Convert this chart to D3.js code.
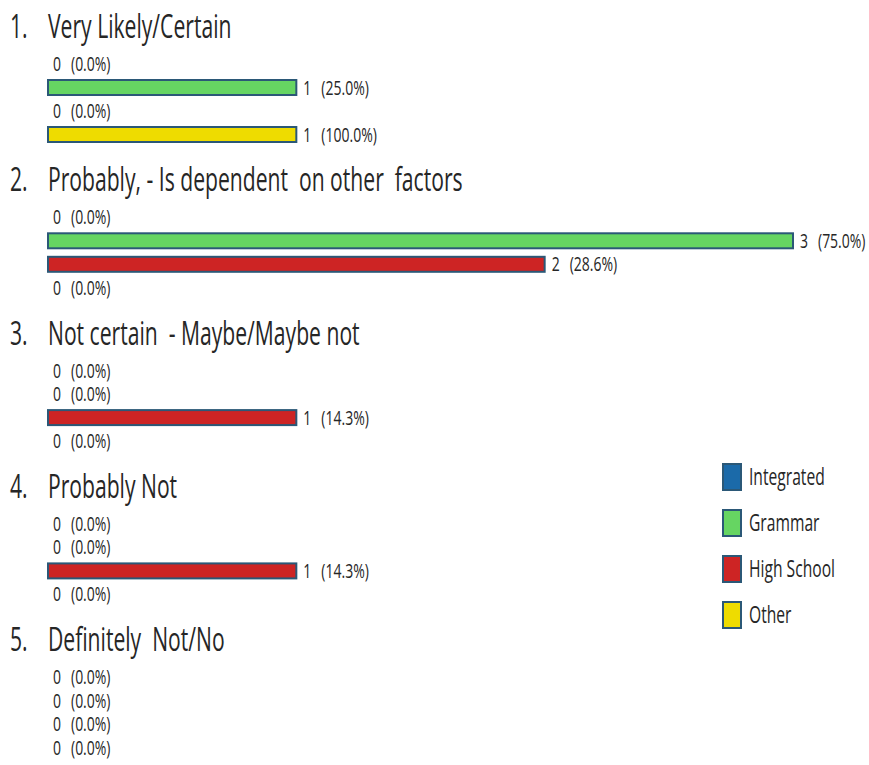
<!DOCTYPE html>
<html>
<head>
<meta charset="utf-8">
<script src="https://cdn.jsdelivr.net/npm/d3@7"></script>
<style>
  html, body { margin: 0; padding: 0; background: #fff; }
  svg { display: block; }
  text { font-family: "Open Sans", "Noto Sans", sans-serif; fill: #262626; }
</style>
</head>
<body>
<svg id="chart" width="869" height="765"></svg>
<script>
// Survey answers, one group per answer, one bar slot per school type
const categories = [
  "Very Likely/Certain",
  "Probably, - Is dependent  on other  factors",
  "Not certain  - Maybe/Maybe not",
  "Probably Not",
  "Definitely  Not/No"
];
const seriesNames = ["Integrated", "Grammar", "High School", "Other"];
const seriesColors = ["#1b6aa9", "#66d562", "#cd2424", "#eedc00"];

// Response counts per series, in category order
const integratedCounts = [0, 0, 0, 0, 0];
const grammarCounts    = [1, 3, 0, 0, 0];
const highSchoolCounts = [0, 2, 1, 1, 0];
const otherCounts      = [1, 0, 0, 0, 0];

// Percent of each series' respondents, in category order
const integratedPct = [0.0, 0.0, 0.0, 0.0, 0.0];
const grammarPct    = [25.0, 75.0, 0.0, 0.0, 0.0];
const highSchoolPct = [0.0, 28.6, 14.3, 14.3, 0.0];
const otherPct      = [100.0, 0.0, 0.0, 0.0, 0.0];

const countsBySeries = [integratedCounts, grammarCounts, highSchoolCounts, otherCounts];
const pctBySeries = [integratedPct, grammarPct, highSchoolPct, otherPct];

const svg = d3.select("#chart");
const TITLE_SX = 0.66;  // narrow type face: horizontal squeeze of titles
const LABEL_SX = 0.7;   // ... of value labels
const LEGEND_SX = 0.68; // ... of legend entries

const x = d3.scaleLinear().domain([0, 3]).range([48, 793]);

// vertical layout: groups, then series slots within each group
const groupY = d3.scaleLinear().domain([0, 1]).range([64, 64 + 153.3]);
const slotY = d3.scaleLinear().domain([0, 1]).range([0, 23.5]);
const barH = 15;

const rows = [];
categories.forEach((c, gi) => {
  seriesNames.forEach((s, si) => {
    rows.push({
      gi, si,
      value: countsBySeries[si][gi],
      pct: pctBySeries[si][gi],
      color: seriesColors[si],
      cy: groupY(gi) + slotY(si)
    });
  });
});

// group titles
const titles = svg.append("g").selectAll("g.title")
  .data(categories)
  .join("g")
  .attr("class", "title");
titles.append("text")
  .attr("transform", (d, i) => `translate(10,${groupY(i) - 26}) scale(${TITLE_SX},1)`)
  .attr("font-size", 32)
  .text((d, i) => `${i + 1}.`);
titles.append("text")
  .attr("transform", (d, i) => `translate(48,${groupY(i) - 26}) scale(${TITLE_SX},1)`)
  .attr("font-size", 32)
  .style("white-space", "pre")
  .text(d => d);

// bars
svg.append("g").selectAll("rect")
  .data(rows.filter(r => r.value > 0))
  .join("rect")
  .attr("x", x(0))
  .attr("y", d => d.cy - barH / 2)
  .attr("width", d => x(d.value) - x(0))
  .attr("height", barH)
  .attr("fill", d => d.color)
  .attr("stroke", "#2b5877")
  .attr("stroke-width", 2);

// value labels: count and percent
const labels = svg.append("g").selectAll("g")
  .data(rows)
  .join("g")
  .attr("transform", d => `translate(${x(d.value) + (d.value > 0 ? 7 : 5)},${d.cy + 7})`);
labels.append("text")
  .attr("transform", `scale(${LABEL_SX},1)`)
  .attr("font-size", 20)
  .text(d => d.value);
labels.append("text")
  .attr("transform", `translate(18,0) scale(${LABEL_SX},1)`)
  .attr("font-size", 20)
  .text(d => `(${d.pct.toFixed(1)}%)`);

// legend
const legendY = d3.scalePoint().domain(seriesNames).range([477, 615]);
const legend = svg.append("g").selectAll("g")
  .data(seriesNames)
  .join("g")
  .attr("transform", d => `translate(723,${legendY(d)})`);
legend.append("rect")
  .attr("x", 0).attr("y", -13)
  .attr("width", 18).attr("height", 26)
  .attr("fill", (d, i) => seriesColors[i])
  .attr("stroke", "#2b5877")
  .attr("stroke-width", 2);
legend.append("text")
  .attr("transform", `translate(26,8) scale(${LEGEND_SX},1)`)
  .attr("font-size", 23)
  .text(d => d);
</script>
</body>
</html>
